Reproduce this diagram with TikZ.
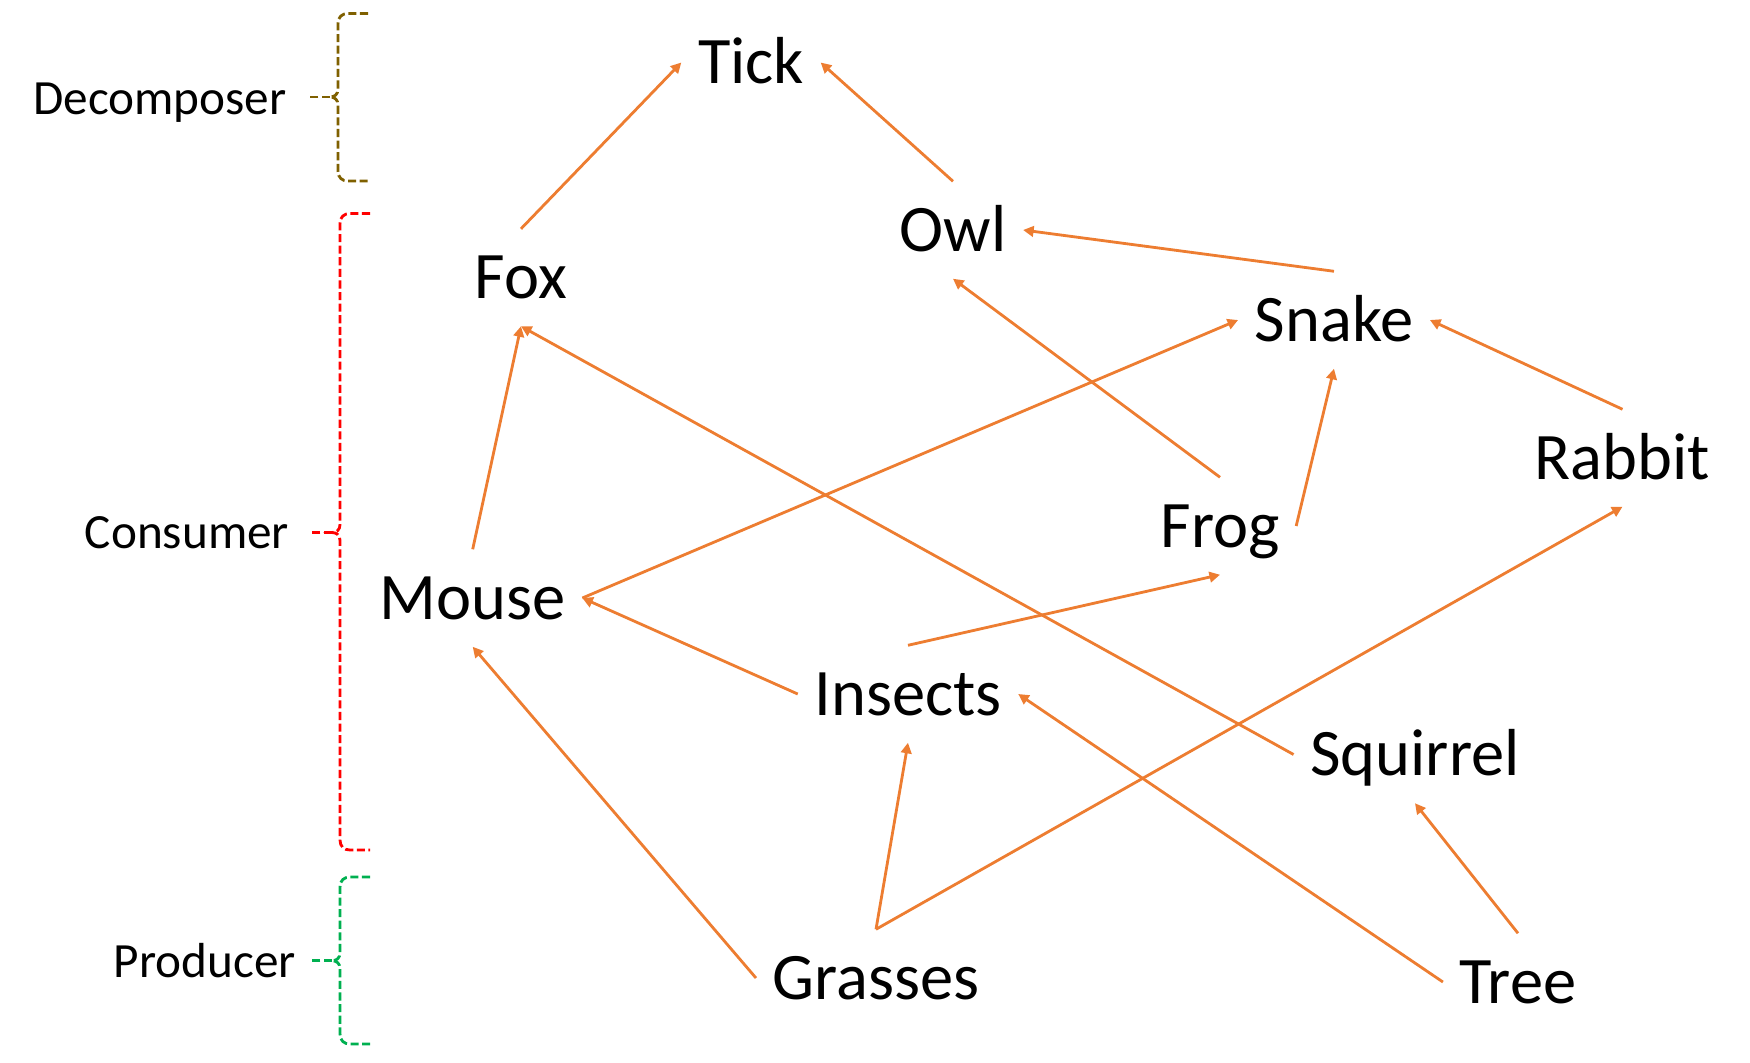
\documentclass[tikz,border=0pt]{standalone}
\usepackage{fontspec}
\setmainfont{Carlito}
\usetikzlibrary{arrows.meta}
\definecolor{orangefleche}{RGB}{237,125,49}
\definecolor{ocre}{RGB}{127,96,0}
\definecolor{vert}{RGB}{0,176,80}

\begin{document}
\begin{tikzpicture}[x=0.01cm, y=-0.01cm]
	% STYLES
	\tikzstyle{espece} = [font=\fontsize{18.9}{22}\selectfont, text height=12pt, text depth=0pt, minimum height=0.96cm, inner xsep=4.55pt, inner ysep=0pt]
	\tikzstyle{niveau} = [font=\fontsize{14}{17}\selectfont, anchor=base, inner sep=0pt]
	\tikzstyle{mange} = [line width=0.8pt, draw=orangefleche, -{Triangle[length=3pt,width=3pt]}]
	\tikzstyle{accolade} = [line width=0.8pt, dash pattern=on 2.3pt off 1pt]

	\useasboundingbox (0,0) rectangle (1750,1062);

	% NOEUDS
	\node[espece] at (751, 62.5) (Tick) {Tick};
	\node[espece] at (953, 230) (Owl) {Owl};
	\node[espece] at (521, 277.5) (Fox) {Fox};
	\node[espece] at (1334, 320) (Snake) {Snake};
	\node[espece] at (1622.5, 458) (Rabbit) {Rabbit};
	\node[espece] at (1220, 526) (Frog) {Frog};
	\node[espece] at (472.7, 598) (Mouse) {Mouse};
	\node[espece] at (908, 694) (Insects) {Insects};
	\node[espece] at (1415, 754.5) (Squirrel) {Squirrel};
	\node[espece] at (876, 978) (Grasses) {Grasses};
	\node[espece] at (1518, 982) (Tree) {Tree};

	\node[niveau] at (160, 114) (decomp) {Decomposer};
	\node[niveau] at (187, 548.8) (conso) {Consumer};
	\node[niveau] at (204.7, 977.6) (prod) {Producer};

	% FLECHES
	\path[mange] (Fox.north) -- (Tick.west);
	\path[mange] (Owl.north) -- (Tick.east);
	\path[mange] (Snake.north) -- (Owl.east);
	\path[mange] (Frog.north) -- (Owl.south);
	\path[mange] (Mouse.north) -- (Fox.south);
	\path[mange] (Squirrel.west) -- (Fox.south);
	\path[mange] (Mouse.east) -- (Snake.west);
	\path[mange] (Frog.east) -- (Snake.south);
	\path[mange] (Rabbit.north) -- (Snake.east);
	\path[mange] (Insects.north) -- (Frog.south);
	\path[mange] (Insects.west) -- (Mouse.east);
	\path[mange] (Grasses.west) -- (Mouse.south);
	\path[mange] (Grasses.north) -- (Insects.south);
	\path[mange] (Grasses.north) -- (Rabbit.south);
	\path[mange] (Tree.west) -- (Insects.east);
	\path[mange] (Tree.north) -- (Squirrel.south);

	% ACCOLADES
	\path[accolade, draw=ocre]
		(368,13.5) -- (348,13.5)
		.. controls (342,13.5) and (338,17) .. (338,23.5)
		-- (338,89)
		.. controls (338,94) and (335,97) .. (330,97)
		.. controls (335,97) and (338,100) .. (338,105)
		-- (338,171)
		.. controls (338,177.5) and (342,181) .. (348,181)
		-- (368,181)
	;
	\path[accolade, draw=ocre] (330,97) -- (310,97);

	\path[accolade, draw=red]
		(370,213.5) -- (350,213.5)
		.. controls (344,213.5) and (340,217) .. (340,223.5)
		-- (340,524.5)
		.. controls (340,529.5) and (337,532.5) .. (332,532.5)
		.. controls (337,532.5) and (340,535.5) .. (340,540.5)
		-- (340,840)
		.. controls (340,846.5) and (344,850) .. (350,850)
		-- (370,850)
	;
	\path[accolade, draw=red] (332,532.5) -- (310,532.5);

	\path[accolade, draw=vert]
		(370,877) -- (350,877)
		.. controls (344,877) and (340,880.5) .. (340,887)
		-- (340,952.7)
		.. controls (340,957.7) and (337,960.7) .. (332,960.7)
		.. controls (337,960.7) and (340,963.7) .. (340,968.7)
		-- (340,1034)
		.. controls (340,1040.5) and (344,1044) .. (350,1044)
		-- (370,1044)
	;
	\path[accolade, draw=vert] (332,960.7) -- (311,960.7);
\end{tikzpicture}
\end{document}
